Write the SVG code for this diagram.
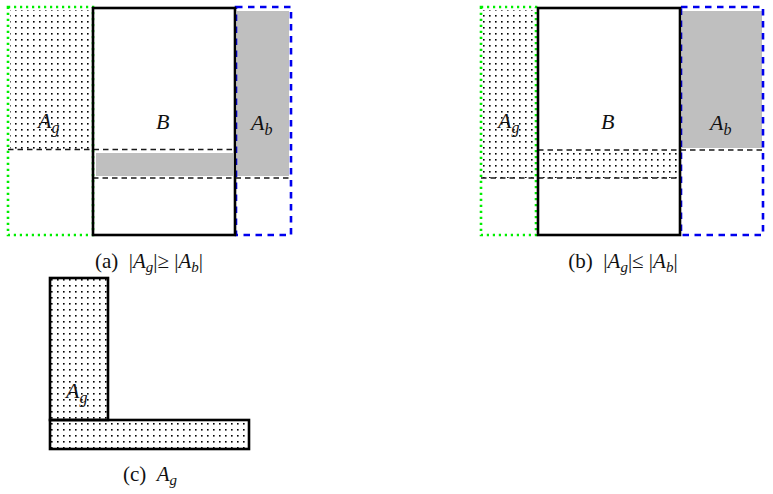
<svg xmlns="http://www.w3.org/2000/svg" width="773" height="494" viewBox="0 0 773 494">
<defs>
<pattern id="dots" patternUnits="userSpaceOnUse" width="6" height="6" x="0" y="0">
<rect x="3" y="3" width="1.6" height="1.6" fill="#000"/>
</pattern>
</defs>
<style>
.gray{fill:#bfbfbf;stroke:none}
.dot{fill:url(#dots);stroke:none}
.dash{stroke:#1a1a1a;stroke-width:1.4;stroke-dasharray:5.5 4;fill:none}
.green{fill:none;stroke:#00ee00;stroke-width:2.6;stroke-dasharray:2.2 3.8}
.blue{fill:none;stroke:#0000ee;stroke-width:2.6;stroke-dasharray:6.5 5.5}
.box{fill:none;stroke:#000;stroke-width:2.6}
.lbl{font-family:'Liberation Serif','DejaVu Serif','Times New Roman',serif;font-style:italic;font-size:22px;fill:#111}
.cap{font-family:'Liberation Serif','DejaVu Serif','Times New Roman',serif;font-size:21px;fill:#111}
.it{font-style:italic}
</style>
<g id="panel-a">
<rect class="dot" x="10" y="10" width="81" height="139"/>
<rect class="gray" x="96" y="153" width="137" height="23"/>
<rect class="gray" x="237" y="11" width="52" height="165"/>
<g id="connectors-a">
<line class="dash" x1="8" y1="149.5" x2="234" y2="149.5"/>
<line class="dash" x1="93" y1="178" x2="291" y2="178"/>
</g>
<rect id="a-Ag" class="green" x="8" y="7" width="85" height="228"/>
<rect id="a-Ab" class="blue" x="236" y="7" width="55" height="228"/>
<rect id="a-B" class="box" x="93" y="8" width="142" height="227"/>
<text class="lbl" x="38" y="128">A<tspan font-size="16" dy="5">g</tspan></text>
<text class="lbl" x="156" y="129">B</text>
<text class="lbl" x="251" y="130">A<tspan font-size="16" dy="5">b</tspan></text>
<text class="cap" x="149" y="268" text-anchor="middle" xml:space="preserve">(a)  |<tspan class="it">A</tspan><tspan class="it" font-size="15" dy="4">g</tspan><tspan dy="-4">|≥ |</tspan><tspan class="it">A</tspan><tspan class="it" font-size="15" dy="4">b</tspan><tspan dy="-4">|</tspan></text>
</g>
<g id="panel-b">
<rect class="dot" x="482" y="10" width="53" height="168"/>
<rect class="dot" x="540" y="150" width="138" height="28"/>
<rect class="gray" x="682" y="11" width="80" height="137"/>
<g id="connectors-b">
<line class="dash" x1="538" y1="150" x2="763" y2="150"/>
<line class="dash" x1="481" y1="178" x2="680" y2="178"/>
</g>
<rect id="b-Ag" class="green" x="481" y="7" width="55" height="228"/>
<rect id="b-Ab" class="blue" x="681" y="7" width="82" height="228"/>
<rect id="b-B" class="box" x="538" y="8" width="142" height="227"/>
<text class="lbl" x="498" y="128">A<tspan font-size="16" dy="5">g</tspan></text>
<text class="lbl" x="601" y="129">B</text>
<text class="lbl" x="710" y="130">A<tspan font-size="16" dy="5">b</tspan></text>
<text class="cap" x="623" y="268" text-anchor="middle" xml:space="preserve">(b)  |<tspan class="it">A</tspan><tspan class="it" font-size="15" dy="4">g</tspan><tspan dy="-4">|≤ |</tspan><tspan class="it">A</tspan><tspan class="it" font-size="15" dy="4">b</tspan><tspan dy="-4">|</tspan></text>
</g>
<g id="panel-c">
<rect class="dot" x="50" y="278" width="58" height="142"/>
<rect class="dot" x="50" y="420" width="199" height="29"/>
<rect class="box" x="50" y="278" width="58" height="142" stroke-width="2"/>
<rect class="box" x="50" y="420" width="199" height="29" stroke-width="2"/>
<text class="lbl" x="66" y="398">A<tspan font-size="16" dy="5">g</tspan></text>
<text class="cap" x="150" y="481" text-anchor="middle" xml:space="preserve">(c)  <tspan class="it">A</tspan><tspan class="it" font-size="15" dy="4">g</tspan></text>
</g>
</svg>
